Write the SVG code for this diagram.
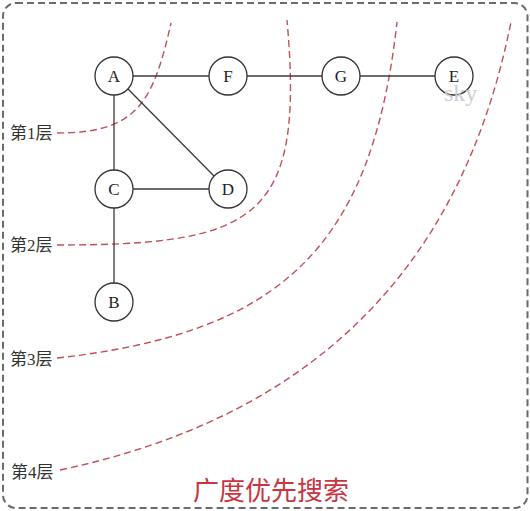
<svg xmlns="http://www.w3.org/2000/svg" width="530" height="511" viewBox="0 0 530 511">
<style>
.frame{fill:#fff;stroke:#6b6b6b;stroke-width:2;stroke-dasharray:7 4}
.edge{stroke:#3a3a3a;stroke-width:1.3;fill:none}
.node circle{fill:#fff;stroke:#333;stroke-width:1.3}
.node text{font-family:"Liberation Serif","Noto Sans CJK SC",serif;font-size:17px;fill:#222;text-anchor:middle}
.layer{fill:none;stroke:#c0505a;stroke-width:1.4;stroke-dasharray:7 4}
.lbl{font-family:"Liberation Serif","Noto Sans CJK SC",serif;font-size:17px;fill:#333}
.title{font-family:"Liberation Serif","Noto Sans CJK SC",serif;font-size:26px;fill:#c8343f}
.wm{font-family:"Liberation Serif",serif;font-size:24px;fill:#c9ccd2}
</style>
<rect class="frame" x="3" y="3" width="524.5" height="505" rx="13"/>
<g id="layers">
<path class="layer" d="M57,133 C137,133 153,103 171,23"/>
<path class="layer" d="M57,245 C257,245 305,220 287,20"/>
<path class="layer" d="M57,358 C282,333 372,247 397,22"/>
<path class="layer" d="M60,470 C310,417 461,272 511,22"/>
</g>
<g id="connectors">
<line class="edge" x1="133" y1="76" x2="209" y2="76"/>
<line class="edge" x1="247" y1="76" x2="322" y2="76"/>
<line class="edge" x1="360" y1="76" x2="435" y2="76"/>
<line class="edge" x1="114" y1="95" x2="114" y2="170"/>
<line class="edge" x1="128" y1="89" x2="214" y2="176"/>
<line class="edge" x1="133" y1="189" x2="209" y2="189"/>
<line class="edge" x1="114" y1="208" x2="114" y2="283"/>
</g>
<g id="node-A" class="node"><circle cx="114" cy="76" r="19"/><text x="114" y="82">A</text></g>
<g id="node-F" class="node"><circle cx="228" cy="76" r="19"/><text x="228" y="82">F</text></g>
<g id="node-G" class="node"><circle cx="341" cy="76" r="19"/><text x="341" y="82">G</text></g>
<g id="node-E" class="node"><circle cx="454" cy="76" r="19"/><text x="454" y="82">E</text></g>
<g id="node-C" class="node"><circle cx="114" cy="189" r="19"/><text x="114" y="195">C</text></g>
<g id="node-D" class="node"><circle cx="228" cy="189" r="19"/><text x="228" y="195">D</text></g>
<g id="node-B" class="node"><circle cx="114" cy="302" r="19"/><text x="114" y="308">B</text></g>
<text class="wm" x="444" y="101">sky</text>
<text class="lbl" x="10" y="139">第1层</text>
<text class="lbl" x="10" y="251">第2层</text>
<text class="lbl" x="10" y="365">第3层</text>
<text class="lbl" x="11" y="478">第4层</text>
<text class="title" x="193" y="500">广度优先搜索</text>
</svg>
